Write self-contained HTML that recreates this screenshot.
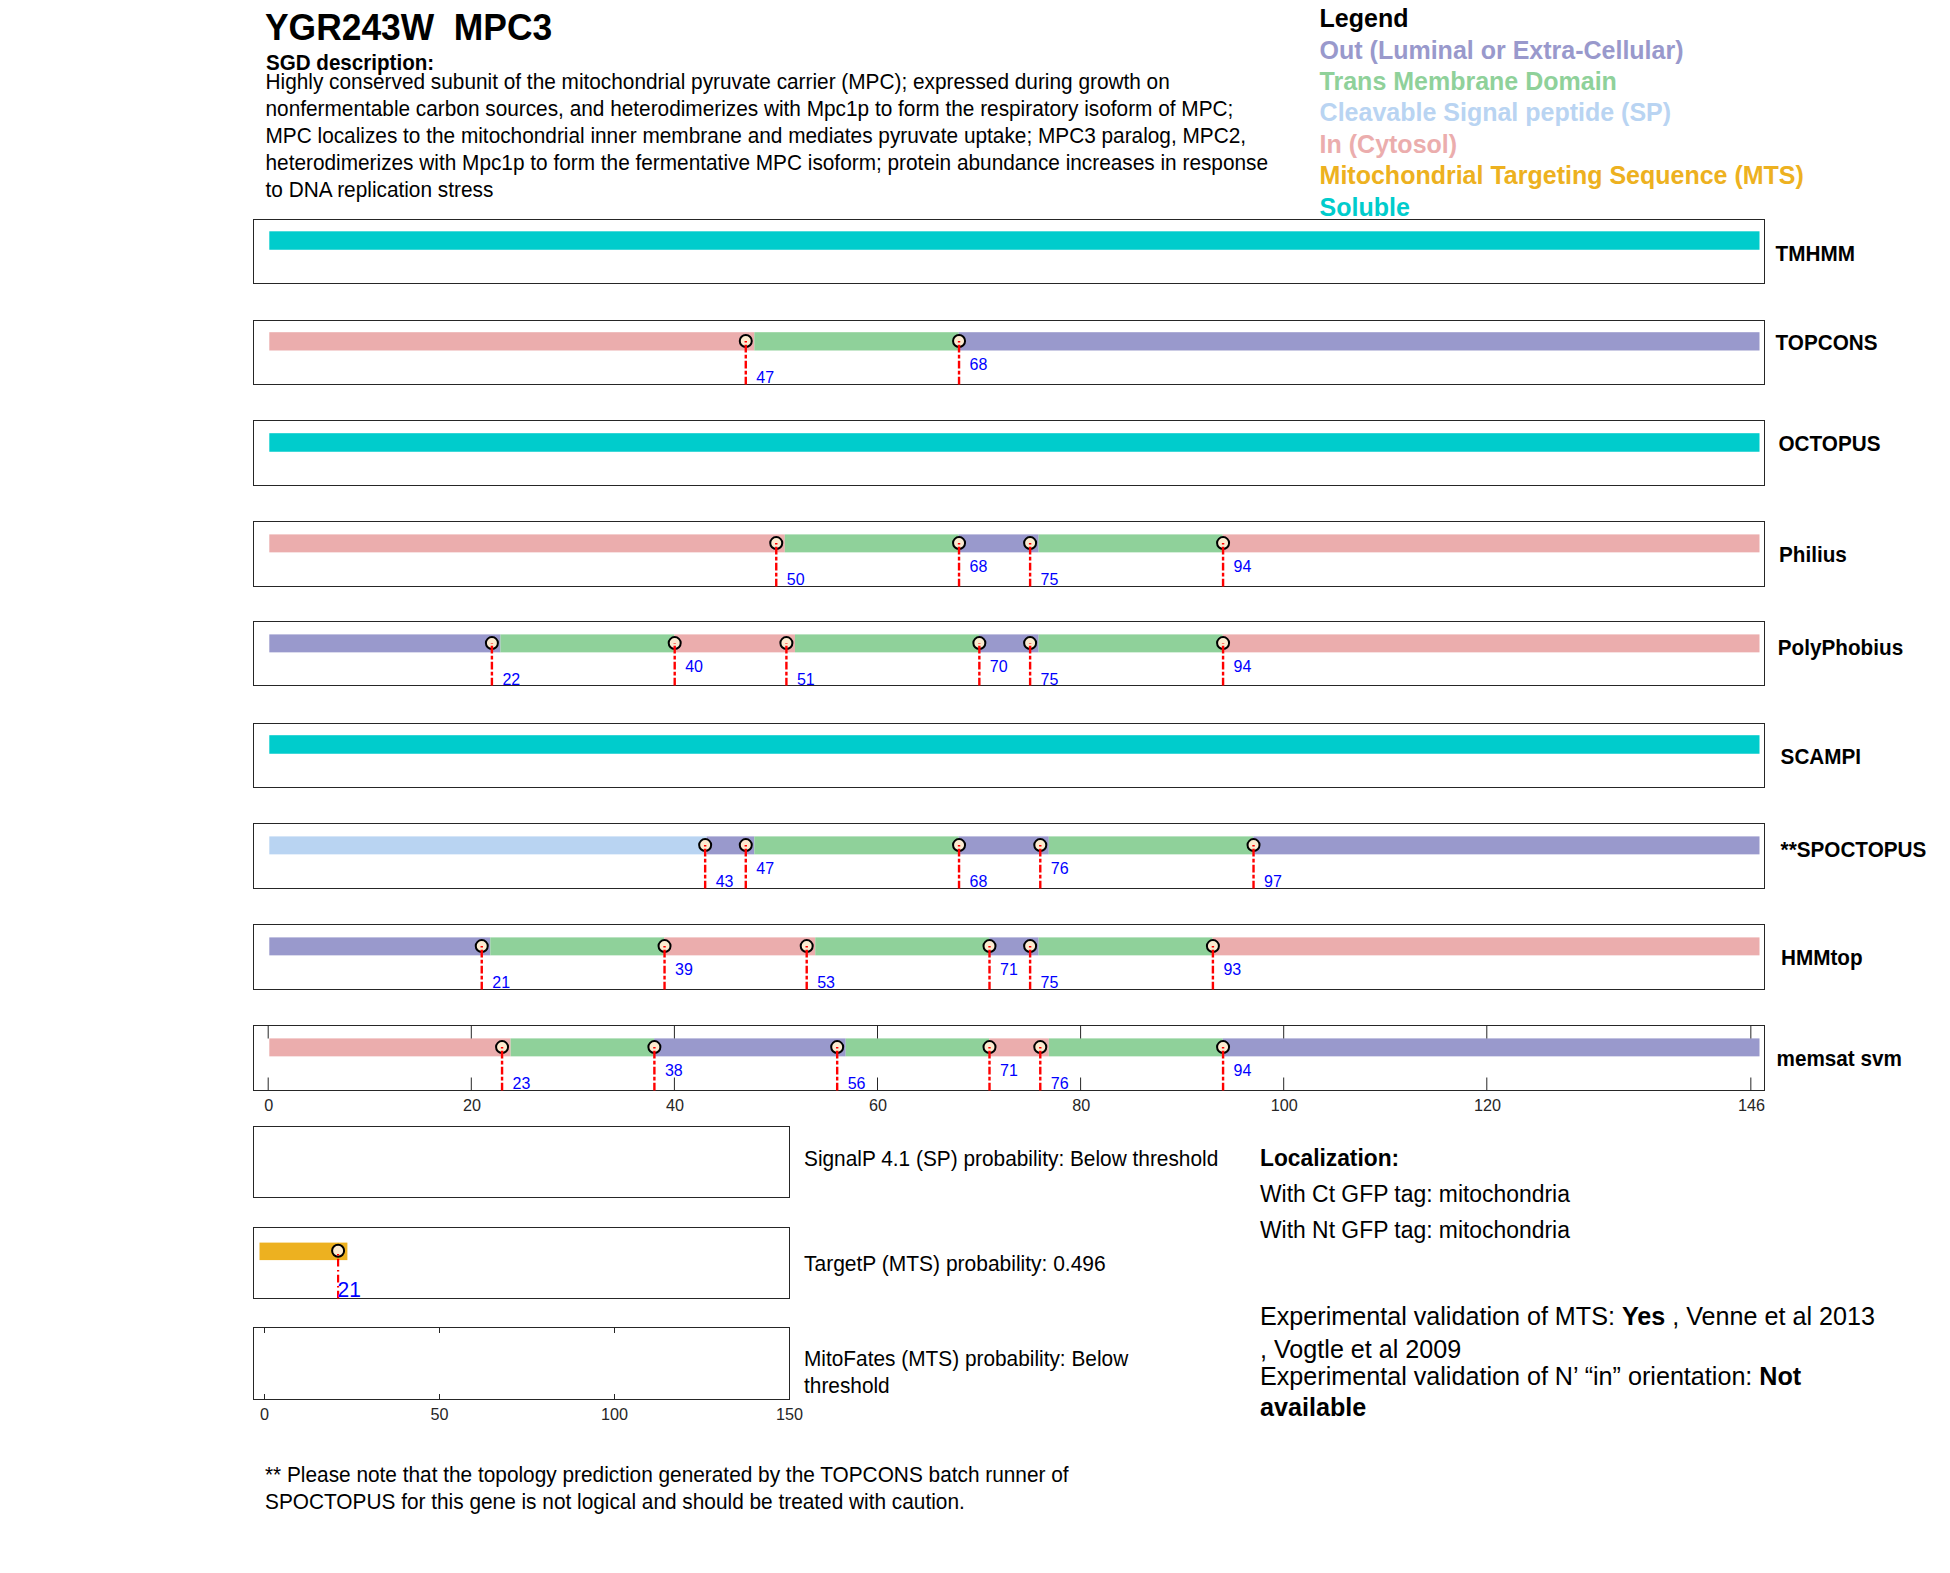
<!DOCTYPE html>
<html><head><meta charset="utf-8"><title>YGR243W MPC3</title>
<style>
html,body{margin:0;padding:0;background:#fff;width:1950px;height:1573px;overflow:hidden}
svg{display:block}
text{font-family:"Liberation Sans",sans-serif;fill:#000}
.title{font-size:35.4px;font-weight:bold}
.sgd{font-size:20.6px;font-weight:bold}
.desc{font-size:20.81px}
.leg{font-size:25px;font-weight:bold}
.rl{font-size:20.7px;font-weight:bold}
.ml{font-size:16px;fill:#00F}
.tl{font-size:16.2px;fill:#262626}
.info{font-size:20.84px}
.loch{font-size:22.78px;font-weight:bold}
.loc{font-size:22.9px}
.exp{font-size:25.15px}
.foot{font-size:20.83px}
</style></head>
<body>
<svg width="1950" height="1573" viewBox="0 0 1950 1573">
<rect x="253.5" y="219.5" width="1511.0" height="64.0" fill="none" stroke="#262626" stroke-width="1"/>
<rect x="269.30" y="231.30" width="1490.20" height="18.45" fill="#00CCCC"/>
<text transform="translate(1775.60 260.80) scale(1 1.06)" class="rl">TMHMM</text>
<rect x="253.5" y="320.5" width="1511.0" height="64.0" fill="none" stroke="#262626" stroke-width="1"/>
<rect x="269.30" y="332.20" width="485.02" height="18.30" fill="#EBADAD"/>
<rect x="754.32" y="332.20" width="204.42" height="18.30" fill="#8FD19A"/>
<rect x="958.74" y="332.20" width="800.76" height="18.30" fill="#9999CC"/>
<circle cx="745.78" cy="341.05" r="6" fill="#FCEBD0" stroke="#000" stroke-width="2"/>
<line x1="745.78" y1="384.5" x2="745.78" y2="341.05" stroke="#F00" stroke-width="2.4" stroke-dasharray="7.7 2.2 3.8 2.3"/>
<text transform="translate(756.28 382.80) scale(1 1.05)" class="ml">47</text>
<circle cx="959.04" cy="341.05" r="6" fill="#FCEBD0" stroke="#000" stroke-width="2"/>
<line x1="959.04" y1="384.5" x2="959.04" y2="341.05" stroke="#F00" stroke-width="2.4" stroke-dasharray="7.7 2.2 3.8 2.3"/>
<text transform="translate(969.54 369.80) scale(1 1.05)" class="ml">68</text>
<text transform="translate(1775.60 350.20) scale(1 1.06)" class="rl">TOPCONS</text>
<rect x="253.5" y="420.5" width="1511.0" height="65.0" fill="none" stroke="#262626" stroke-width="1"/>
<rect x="269.30" y="433.20" width="1490.20" height="18.55" fill="#00CCCC"/>
<text transform="translate(1778.50 450.90) scale(1 1.06)" class="rl">OCTOPUS</text>
<rect x="253.5" y="521.5" width="1511.0" height="65.0" fill="none" stroke="#262626" stroke-width="1"/>
<rect x="269.30" y="534.40" width="515.48" height="17.95" fill="#EBADAD"/>
<rect x="784.78" y="534.40" width="173.96" height="17.95" fill="#8FD19A"/>
<rect x="958.74" y="534.40" width="79.92" height="17.95" fill="#9999CC"/>
<rect x="1038.66" y="534.40" width="184.11" height="17.95" fill="#8FD19A"/>
<rect x="1222.77" y="534.40" width="536.73" height="17.95" fill="#EBADAD"/>
<circle cx="776.25" cy="543.08" r="6" fill="#FCEBD0" stroke="#000" stroke-width="2"/>
<line x1="776.25" y1="586.5" x2="776.25" y2="543.08" stroke="#F00" stroke-width="2.4" stroke-dasharray="7.7 2.2 3.8 2.3"/>
<text transform="translate(786.75 584.83) scale(1 1.05)" class="ml">50</text>
<circle cx="959.04" cy="543.08" r="6" fill="#FCEBD0" stroke="#000" stroke-width="2"/>
<line x1="959.04" y1="586.5" x2="959.04" y2="543.08" stroke="#F00" stroke-width="2.4" stroke-dasharray="7.7 2.2 3.8 2.3"/>
<text transform="translate(969.54 571.83) scale(1 1.05)" class="ml">68</text>
<circle cx="1030.12" cy="543.08" r="6" fill="#FCEBD0" stroke="#000" stroke-width="2"/>
<line x1="1030.12" y1="586.5" x2="1030.12" y2="543.08" stroke="#F00" stroke-width="2.4" stroke-dasharray="7.7 2.2 3.8 2.3"/>
<text transform="translate(1040.62 584.83) scale(1 1.05)" class="ml">75</text>
<circle cx="1223.07" cy="543.08" r="6" fill="#FCEBD0" stroke="#000" stroke-width="2"/>
<line x1="1223.07" y1="586.5" x2="1223.07" y2="543.08" stroke="#F00" stroke-width="2.4" stroke-dasharray="7.7 2.2 3.8 2.3"/>
<text transform="translate(1233.57 571.83) scale(1 1.05)" class="ml">94</text>
<text transform="translate(1779.00 561.70) scale(1 1.06)" class="rl">Philius</text>
<rect x="253.5" y="621.5" width="1511.0" height="64.0" fill="none" stroke="#262626" stroke-width="1"/>
<rect x="269.30" y="634.40" width="231.14" height="17.95" fill="#9999CC"/>
<rect x="500.44" y="634.40" width="173.96" height="17.95" fill="#8FD19A"/>
<rect x="674.40" y="634.40" width="120.54" height="17.95" fill="#EBADAD"/>
<rect x="794.94" y="634.40" width="184.11" height="17.95" fill="#8FD19A"/>
<rect x="979.05" y="634.40" width="59.61" height="17.95" fill="#9999CC"/>
<rect x="1038.66" y="634.40" width="184.11" height="17.95" fill="#8FD19A"/>
<rect x="1222.77" y="634.40" width="536.73" height="17.95" fill="#EBADAD"/>
<circle cx="491.91" cy="643.08" r="6" fill="#FCEBD0" stroke="#000" stroke-width="2"/>
<line x1="491.91" y1="685.5" x2="491.91" y2="643.08" stroke="#F00" stroke-width="2.4" stroke-dasharray="7.7 2.2 3.8 2.3"/>
<text transform="translate(502.41 684.83) scale(1 1.05)" class="ml">22</text>
<circle cx="674.70" cy="643.08" r="6" fill="#FCEBD0" stroke="#000" stroke-width="2"/>
<line x1="674.70" y1="685.5" x2="674.70" y2="643.08" stroke="#F00" stroke-width="2.4" stroke-dasharray="7.7 2.2 3.8 2.3"/>
<text transform="translate(685.20 671.83) scale(1 1.05)" class="ml">40</text>
<circle cx="786.40" cy="643.08" r="6" fill="#FCEBD0" stroke="#000" stroke-width="2"/>
<line x1="786.40" y1="685.5" x2="786.40" y2="643.08" stroke="#F00" stroke-width="2.4" stroke-dasharray="7.7 2.2 3.8 2.3"/>
<text transform="translate(796.90 684.83) scale(1 1.05)" class="ml">51</text>
<circle cx="979.35" cy="643.08" r="6" fill="#FCEBD0" stroke="#000" stroke-width="2"/>
<line x1="979.35" y1="685.5" x2="979.35" y2="643.08" stroke="#F00" stroke-width="2.4" stroke-dasharray="7.7 2.2 3.8 2.3"/>
<text transform="translate(989.85 671.83) scale(1 1.05)" class="ml">70</text>
<circle cx="1030.12" cy="643.08" r="6" fill="#FCEBD0" stroke="#000" stroke-width="2"/>
<line x1="1030.12" y1="685.5" x2="1030.12" y2="643.08" stroke="#F00" stroke-width="2.4" stroke-dasharray="7.7 2.2 3.8 2.3"/>
<text transform="translate(1040.62 684.83) scale(1 1.05)" class="ml">75</text>
<circle cx="1223.07" cy="643.08" r="6" fill="#FCEBD0" stroke="#000" stroke-width="2"/>
<line x1="1223.07" y1="685.5" x2="1223.07" y2="643.08" stroke="#F00" stroke-width="2.4" stroke-dasharray="7.7 2.2 3.8 2.3"/>
<text transform="translate(1233.57 671.83) scale(1 1.05)" class="ml">94</text>
<text transform="translate(1777.80 655.40) scale(1 1.06)" class="rl">PolyPhobius</text>
<rect x="253.5" y="723.5" width="1511.0" height="64.0" fill="none" stroke="#262626" stroke-width="1"/>
<rect x="269.30" y="735.20" width="1490.20" height="18.55" fill="#00CCCC"/>
<text transform="translate(1780.60 764.00) scale(1 1.06)" class="rl">SCAMPI</text>
<rect x="253.5" y="823.5" width="1511.0" height="65.0" fill="none" stroke="#262626" stroke-width="1"/>
<rect x="269.30" y="836.40" width="437.29" height="17.95" fill="#B9D4F2"/>
<rect x="706.59" y="836.40" width="47.73" height="17.95" fill="#9999CC"/>
<rect x="754.32" y="836.40" width="204.42" height="17.95" fill="#8FD19A"/>
<rect x="958.74" y="836.40" width="90.07" height="17.95" fill="#9999CC"/>
<rect x="1048.81" y="836.40" width="204.42" height="17.95" fill="#8FD19A"/>
<rect x="1253.23" y="836.40" width="506.27" height="17.95" fill="#9999CC"/>
<circle cx="705.16" cy="845.08" r="6" fill="#FCEBD0" stroke="#000" stroke-width="2"/>
<line x1="705.16" y1="888.5" x2="705.16" y2="845.08" stroke="#F00" stroke-width="2.4" stroke-dasharray="7.7 2.2 3.8 2.3"/>
<text transform="translate(715.66 886.83) scale(1 1.05)" class="ml">43</text>
<circle cx="745.78" cy="845.08" r="6" fill="#FCEBD0" stroke="#000" stroke-width="2"/>
<line x1="745.78" y1="888.5" x2="745.78" y2="845.08" stroke="#F00" stroke-width="2.4" stroke-dasharray="7.7 2.2 3.8 2.3"/>
<text transform="translate(756.28 873.83) scale(1 1.05)" class="ml">47</text>
<circle cx="959.04" cy="845.08" r="6" fill="#FCEBD0" stroke="#000" stroke-width="2"/>
<line x1="959.04" y1="888.5" x2="959.04" y2="845.08" stroke="#F00" stroke-width="2.4" stroke-dasharray="7.7 2.2 3.8 2.3"/>
<text transform="translate(969.54 886.83) scale(1 1.05)" class="ml">68</text>
<circle cx="1040.28" cy="845.08" r="6" fill="#FCEBD0" stroke="#000" stroke-width="2"/>
<line x1="1040.28" y1="888.5" x2="1040.28" y2="845.08" stroke="#F00" stroke-width="2.4" stroke-dasharray="7.7 2.2 3.8 2.3"/>
<text transform="translate(1050.78 873.83) scale(1 1.05)" class="ml">76</text>
<circle cx="1253.53" cy="845.08" r="6" fill="#FCEBD0" stroke="#000" stroke-width="2"/>
<line x1="1253.53" y1="888.5" x2="1253.53" y2="845.08" stroke="#F00" stroke-width="2.4" stroke-dasharray="7.7 2.2 3.8 2.3"/>
<text transform="translate(1264.03 886.83) scale(1 1.05)" class="ml">97</text>
<text transform="translate(1780.60 856.90) scale(1 1.06)" class="rl">**SPOCTOPUS</text>
<rect x="253.5" y="924.5" width="1511.0" height="65.0" fill="none" stroke="#262626" stroke-width="1"/>
<rect x="269.30" y="937.40" width="220.99" height="17.95" fill="#9999CC"/>
<rect x="490.29" y="937.40" width="173.96" height="17.95" fill="#8FD19A"/>
<rect x="664.24" y="937.40" width="151.00" height="17.95" fill="#EBADAD"/>
<rect x="815.25" y="937.40" width="173.96" height="17.95" fill="#8FD19A"/>
<rect x="989.20" y="937.40" width="49.45" height="17.95" fill="#9999CC"/>
<rect x="1038.66" y="937.40" width="173.96" height="17.95" fill="#8FD19A"/>
<rect x="1212.62" y="937.40" width="546.88" height="17.95" fill="#EBADAD"/>
<circle cx="481.75" cy="946.08" r="6" fill="#FCEBD0" stroke="#000" stroke-width="2"/>
<line x1="481.75" y1="989.5" x2="481.75" y2="946.08" stroke="#F00" stroke-width="2.4" stroke-dasharray="7.7 2.2 3.8 2.3"/>
<text transform="translate(492.25 987.83) scale(1 1.05)" class="ml">21</text>
<circle cx="664.54" cy="946.08" r="6" fill="#FCEBD0" stroke="#000" stroke-width="2"/>
<line x1="664.54" y1="989.5" x2="664.54" y2="946.08" stroke="#F00" stroke-width="2.4" stroke-dasharray="7.7 2.2 3.8 2.3"/>
<text transform="translate(675.04 974.83) scale(1 1.05)" class="ml">39</text>
<circle cx="806.71" cy="946.08" r="6" fill="#FCEBD0" stroke="#000" stroke-width="2"/>
<line x1="806.71" y1="989.5" x2="806.71" y2="946.08" stroke="#F00" stroke-width="2.4" stroke-dasharray="7.7 2.2 3.8 2.3"/>
<text transform="translate(817.21 987.83) scale(1 1.05)" class="ml">53</text>
<circle cx="989.50" cy="946.08" r="6" fill="#FCEBD0" stroke="#000" stroke-width="2"/>
<line x1="989.50" y1="989.5" x2="989.50" y2="946.08" stroke="#F00" stroke-width="2.4" stroke-dasharray="7.7 2.2 3.8 2.3"/>
<text transform="translate(1000.00 974.83) scale(1 1.05)" class="ml">71</text>
<circle cx="1030.12" cy="946.08" r="6" fill="#FCEBD0" stroke="#000" stroke-width="2"/>
<line x1="1030.12" y1="989.5" x2="1030.12" y2="946.08" stroke="#F00" stroke-width="2.4" stroke-dasharray="7.7 2.2 3.8 2.3"/>
<text transform="translate(1040.62 987.83) scale(1 1.05)" class="ml">75</text>
<circle cx="1212.91" cy="946.08" r="6" fill="#FCEBD0" stroke="#000" stroke-width="2"/>
<line x1="1212.91" y1="989.5" x2="1212.91" y2="946.08" stroke="#F00" stroke-width="2.4" stroke-dasharray="7.7 2.2 3.8 2.3"/>
<text transform="translate(1223.41 974.83) scale(1 1.05)" class="ml">93</text>
<text transform="translate(1781.00 964.50) scale(1 1.06)" class="rl">HMMtop</text>
<rect x="253.5" y="1025.5" width="1511.0" height="65.0" fill="none" stroke="#262626" stroke-width="1"/>
<rect x="269.30" y="1038.40" width="241.30" height="17.95" fill="#EBADAD"/>
<rect x="510.60" y="1038.40" width="143.49" height="17.95" fill="#8FD19A"/>
<rect x="654.09" y="1038.40" width="191.62" height="17.95" fill="#9999CC"/>
<rect x="845.71" y="1038.40" width="143.49" height="17.95" fill="#8FD19A"/>
<rect x="989.20" y="1038.40" width="59.61" height="17.95" fill="#EBADAD"/>
<rect x="1048.81" y="1038.40" width="173.96" height="17.95" fill="#8FD19A"/>
<rect x="1222.77" y="1038.40" width="536.73" height="17.95" fill="#9999CC"/>
<circle cx="502.06" cy="1047.08" r="6" fill="#FCEBD0" stroke="#000" stroke-width="2"/>
<line x1="502.06" y1="1090.5" x2="502.06" y2="1047.08" stroke="#F00" stroke-width="2.4" stroke-dasharray="7.7 2.2 3.8 2.3"/>
<text transform="translate(512.57 1088.83) scale(1 1.05)" class="ml">23</text>
<circle cx="654.39" cy="1047.08" r="6" fill="#FCEBD0" stroke="#000" stroke-width="2"/>
<line x1="654.39" y1="1090.5" x2="654.39" y2="1047.08" stroke="#F00" stroke-width="2.4" stroke-dasharray="7.7 2.2 3.8 2.3"/>
<text transform="translate(664.89 1075.83) scale(1 1.05)" class="ml">38</text>
<circle cx="837.18" cy="1047.08" r="6" fill="#FCEBD0" stroke="#000" stroke-width="2"/>
<line x1="837.18" y1="1090.5" x2="837.18" y2="1047.08" stroke="#F00" stroke-width="2.4" stroke-dasharray="7.7 2.2 3.8 2.3"/>
<text transform="translate(847.68 1088.83) scale(1 1.05)" class="ml">56</text>
<circle cx="989.50" cy="1047.08" r="6" fill="#FCEBD0" stroke="#000" stroke-width="2"/>
<line x1="989.50" y1="1090.5" x2="989.50" y2="1047.08" stroke="#F00" stroke-width="2.4" stroke-dasharray="7.7 2.2 3.8 2.3"/>
<text transform="translate(1000.00 1075.83) scale(1 1.05)" class="ml">71</text>
<circle cx="1040.28" cy="1047.08" r="6" fill="#FCEBD0" stroke="#000" stroke-width="2"/>
<line x1="1040.28" y1="1090.5" x2="1040.28" y2="1047.08" stroke="#F00" stroke-width="2.4" stroke-dasharray="7.7 2.2 3.8 2.3"/>
<text transform="translate(1050.78 1088.83) scale(1 1.05)" class="ml">76</text>
<circle cx="1223.07" cy="1047.08" r="6" fill="#FCEBD0" stroke="#000" stroke-width="2"/>
<line x1="1223.07" y1="1090.5" x2="1223.07" y2="1047.08" stroke="#F00" stroke-width="2.4" stroke-dasharray="7.7 2.2 3.8 2.3"/>
<text transform="translate(1233.57 1075.83) scale(1 1.05)" class="ml">94</text>
<text transform="translate(1776.50 1066.20) scale(1 1.06)" class="rl">memsat svm</text>
<line x1="268.20" y1="1025.5" x2="268.20" y2="1038.5" stroke="#262626" stroke-width="1"/>
<line x1="268.20" y1="1090.5" x2="268.20" y2="1077.5" stroke="#262626" stroke-width="1"/>
<text transform="translate(268.80 1110.7) scale(1 1.06)" class="tl" text-anchor="middle">0</text>
<line x1="471.30" y1="1025.5" x2="471.30" y2="1038.5" stroke="#262626" stroke-width="1"/>
<line x1="471.30" y1="1090.5" x2="471.30" y2="1077.5" stroke="#262626" stroke-width="1"/>
<text transform="translate(471.90 1110.7) scale(1 1.06)" class="tl" text-anchor="middle">20</text>
<line x1="674.40" y1="1025.5" x2="674.40" y2="1038.5" stroke="#262626" stroke-width="1"/>
<line x1="674.40" y1="1090.5" x2="674.40" y2="1077.5" stroke="#262626" stroke-width="1"/>
<text transform="translate(675.00 1110.7) scale(1 1.06)" class="tl" text-anchor="middle">40</text>
<line x1="877.50" y1="1025.5" x2="877.50" y2="1038.5" stroke="#262626" stroke-width="1"/>
<line x1="877.50" y1="1090.5" x2="877.50" y2="1077.5" stroke="#262626" stroke-width="1"/>
<text transform="translate(878.10 1110.7) scale(1 1.06)" class="tl" text-anchor="middle">60</text>
<line x1="1080.60" y1="1025.5" x2="1080.60" y2="1038.5" stroke="#262626" stroke-width="1"/>
<line x1="1080.60" y1="1090.5" x2="1080.60" y2="1077.5" stroke="#262626" stroke-width="1"/>
<text transform="translate(1081.20 1110.7) scale(1 1.06)" class="tl" text-anchor="middle">80</text>
<line x1="1283.70" y1="1025.5" x2="1283.70" y2="1038.5" stroke="#262626" stroke-width="1"/>
<line x1="1283.70" y1="1090.5" x2="1283.70" y2="1077.5" stroke="#262626" stroke-width="1"/>
<text transform="translate(1284.30 1110.7) scale(1 1.06)" class="tl" text-anchor="middle">100</text>
<line x1="1486.80" y1="1025.5" x2="1486.80" y2="1038.5" stroke="#262626" stroke-width="1"/>
<line x1="1486.80" y1="1090.5" x2="1486.80" y2="1077.5" stroke="#262626" stroke-width="1"/>
<text transform="translate(1487.40 1110.7) scale(1 1.06)" class="tl" text-anchor="middle">120</text>
<line x1="1750.83" y1="1025.5" x2="1750.83" y2="1038.5" stroke="#262626" stroke-width="1"/>
<line x1="1750.83" y1="1090.5" x2="1750.83" y2="1077.5" stroke="#262626" stroke-width="1"/>
<text transform="translate(1751.43 1110.7) scale(1 1.06)" class="tl" text-anchor="middle">146</text>
<rect x="253.5" y="1126.5" width="536.0" height="71.0" fill="none" stroke="#262626" stroke-width="1"/>
<rect x="253.5" y="1227.5" width="536.0" height="71.0" fill="none" stroke="#262626" stroke-width="1"/>
<rect x="253.5" y="1327.5" width="536.0" height="72.0" fill="none" stroke="#262626" stroke-width="1"/>
<line x1="264.50" y1="1327.5" x2="264.50" y2="1333" stroke="#262626" stroke-width="1"/>
<line x1="264.50" y1="1399.5" x2="264.50" y2="1394" stroke="#262626" stroke-width="1"/>
<text transform="translate(264.50 1419.8) scale(1 1.06)" class="tl" text-anchor="middle">0</text>
<line x1="439.50" y1="1327.5" x2="439.50" y2="1333" stroke="#262626" stroke-width="1"/>
<line x1="439.50" y1="1399.5" x2="439.50" y2="1394" stroke="#262626" stroke-width="1"/>
<text transform="translate(439.50 1419.8) scale(1 1.06)" class="tl" text-anchor="middle">50</text>
<line x1="614.50" y1="1327.5" x2="614.50" y2="1333" stroke="#262626" stroke-width="1"/>
<line x1="614.50" y1="1399.5" x2="614.50" y2="1394" stroke="#262626" stroke-width="1"/>
<text transform="translate(614.50 1419.8) scale(1 1.06)" class="tl" text-anchor="middle">100</text>
<line x1="789.50" y1="1327.5" x2="789.50" y2="1333" stroke="#262626" stroke-width="1"/>
<line x1="789.50" y1="1399.5" x2="789.50" y2="1394" stroke="#262626" stroke-width="1"/>
<text transform="translate(789.50 1419.8) scale(1 1.06)" class="tl" text-anchor="middle">150</text>
<rect x="259.5" y="1242.6" width="87.90" height="17.5" fill="#EDB120"/>
<circle cx="338.1" cy="1250.8" r="6" fill="#FCEBD0" stroke="#000" stroke-width="2"/>
<line x1="338.1" y1="1298.5" x2="338.1" y2="1250.8" stroke="#F00" stroke-width="2.2" stroke-dasharray="7.7 3.3 1.6 3.4"/>
<text transform="translate(337.5 1297) scale(1 1.06)" class="ml" style="font-size:21px">21</text>
<text transform="translate(265.00 39.60) scale(1 1.06)" class="title" >YGR243W&#160; MPC3</text>
<text transform="translate(266.00 70.30) scale(1 1.06)" class="sgd" >SGD description:</text>
<text transform="translate(265.50 89.00) scale(1 1.06)" class="desc" >Highly conserved subunit of the mitochondrial pyruvate carrier (MPC); expressed during growth on</text>
<text transform="translate(265.50 116.07) scale(1 1.06)" class="desc" >nonfermentable carbon sources, and heterodimerizes with Mpc1p to form the respiratory isoform of MPC;</text>
<text transform="translate(265.50 143.14) scale(1 1.06)" class="desc" >MPC localizes to the mitochondrial inner membrane and mediates pyruvate uptake; MPC3 paralog, MPC2,</text>
<text transform="translate(265.50 170.21) scale(1 1.06)" class="desc" >heterodimerizes with Mpc1p to form the fermentative MPC isoform; protein abundance increases in response</text>
<text transform="translate(265.50 197.28) scale(1 1.06)" class="desc" >to DNA replication stress</text>
<text transform="translate(1319.6 27.20) scale(1 1.02)" class="leg" style="fill:#000">Legend</text>
<text transform="translate(1319.6 58.60) scale(1 1.02)" class="leg" style="fill:#9999CC">Out (Luminal or Extra-Cellular)</text>
<text transform="translate(1319.6 90.00) scale(1 1.02)" class="leg" style="fill:#8FD19A">Trans Membrane Domain</text>
<text transform="translate(1319.6 121.40) scale(1 1.02)" class="leg" style="fill:#B9D4F2">Cleavable Signal peptide (SP)</text>
<text transform="translate(1319.6 152.80) scale(1 1.02)" class="leg" style="fill:#EBADAD">In (Cytosol)</text>
<text transform="translate(1319.6 184.20) scale(1 1.02)" class="leg" style="fill:#EDB120">Mitochondrial Targeting Sequence (MTS)</text>
<text transform="translate(1319.6 215.60) scale(1 1.02)" class="leg" style="fill:#00CCCC">Soluble</text>
<text transform="translate(804.00 1165.90) scale(1 1.06)" class="info" >SignalP 4.1 (SP) probability: Below threshold</text>
<text transform="translate(804.00 1271.00) scale(1 1.06)" class="info" style="font-size:21px">TargetP (MTS) probability: 0.496</text>
<text transform="translate(804.00 1365.90) scale(1 1.06)" class="info" >MitoFates (MTS) probability: Below</text>
<text transform="translate(804.00 1393.20) scale(1 1.06)" class="info" >threshold</text>
<text transform="translate(1260.00 1165.70) scale(1 1.06)" class="loch" >Localization:</text>
<text transform="translate(1260.00 1201.70) scale(1 1.06)" class="loc" >With Ct GFP tag: mitochondria</text>
<text transform="translate(1260.00 1238.30) scale(1 1.06)" class="loc" >With Nt GFP tag: mitochondria</text>
<text transform="translate(1260.00 1325.00) scale(1 1.06)" class="exp" >Experimental validation of MTS: <tspan font-weight="bold">Yes</tspan> , Venne et al 2013</text>
<text transform="translate(1260.00 1357.70) scale(1 1.06)" class="exp" >, Vogtle et al 2009</text>
<text transform="translate(1260.00 1385.00) scale(1 1.06)" class="exp" >Experimental validation of N’ “in” orientation: <tspan font-weight="bold">Not</tspan></text>
<text transform="translate(1260.00 1416.00) scale(1 1.06)" class="exp" ><tspan font-weight="bold">available</tspan></text>
<text transform="translate(265.00 1481.90) scale(1 1.06)" class="foot" >** Please note that the topology prediction generated by the TOPCONS batch runner of</text>
<text transform="translate(265.00 1508.80) scale(1 1.06)" class="foot" >SPOCTOPUS for this gene is not logical and should be treated with caution.</text>
</svg>
</body></html>
